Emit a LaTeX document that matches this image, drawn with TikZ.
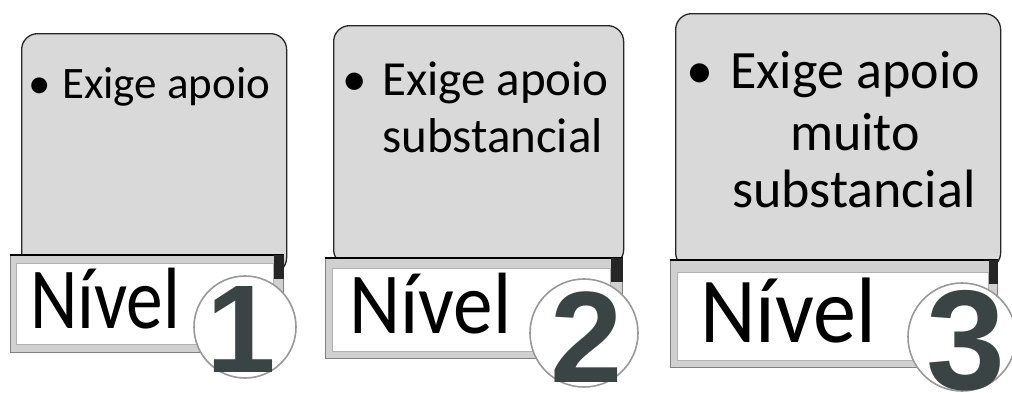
\documentclass[tikz,border=0pt]{standalone}
\usepackage{fontspec}
\setmainfont{Carlito}
\newfontfamily\digitfont{Liberation Sans}
\usepackage{graphicx}
\definecolor{boxgray}{HTML}{D9D9D9}
\definecolor{digitcol}{HTML}{3B4444}
\definecolor{bevel}{HTML}{D0D0D0}
\begin{document}
\begin{tikzpicture}[x=1pt,y=-1pt,
  panel/.style={draw=black!85, line width=1.3pt, fill=boxgray, rounded corners=16pt, anchor=north west, inner sep=0pt},
  barout/.style={draw=black!50, line width=0.8pt, fill=bevel, anchor=north west, inner sep=0pt},
  barin/.style={draw=black!30, line width=0.6pt, fill=white, anchor=north west, inner sep=0pt},
  badge/.style={circle, draw=black!40, line width=1.6pt, fill=white, inner sep=0pt},
  digit/.style={text=digitcol, anchor=base, inner sep=0pt},
  bodytext/.style={anchor=base west, inner sep=0pt},
  bul/.style={anchor=base, inner sep=0pt},
  niv/.style={anchor=base west, inner sep=0pt}]
\useasboundingbox (0,0) rectangle (1012,392);
\fill[white] (0,0) rectangle (1012,392);

% ---------- Panel 1 ----------
\node[panel, minimum width=265pt, minimum height=240pt] (box1) at (21,33) {};
\node[barout, minimum width=273pt, minimum height=97pt] (bar1) at (10,255) {};
\node[barin, minimum width=257pt, minimum height=81pt] (in1) at (16,263) {};
\draw[black, line width=1.2pt] (bar1.north west) -- (bar1.north east);
\fill[black!85] (in1.east |- bar1.north) rectangle ([yshift=-24pt]bar1.north east);
\node[bul, font=\fontsize{45}{54}\selectfont] (bul1) at (40,98) {\textbullet};
\node[bodytext, font=\fontsize{45}{54}\selectfont] (txt1) at (62,98) {Exige apoio};
\node[niv, font=\fontsize{87}{87}\selectfont] (niv1) at (30,328) {\resizebox{150pt}{\height}{Nível}};
\node[badge, minimum size=102pt] (cir1) at (245,327) {};
\node[digit, font=\digitfont\bfseries\fontsize{125}{125}\selectfont] (dig1) at (241,372) {1};

% ---------- Panel 2 ----------
\node[panel, minimum width=290pt, minimum height=240pt] (box2) at (333,25) {};
\node[barout, minimum width=297pt, minimum height=100pt] (bar2) at (325,258) {};
\node[barin, minimum width=278pt, minimum height=83pt] (in2) at (332,268) {};
\draw[black, line width=1.2pt] (bar2.north west) -- (bar2.north east);
\fill[black!85] (in2.east |- bar2.north) rectangle ([yshift=-24pt]bar2.north east);
\node[bul, font=\fontsize{49}{57}\selectfont] (bul2) at (355,95) {\textbullet};
\node[bodytext, font=\fontsize{49}{57}\selectfont] (txt2a) at (382,95) {Exige apoio};
\node[bodytext, font=\fontsize{49}{57}\selectfont] (txt2b) at (382,152) {substancial};
\node[niv, font=\fontsize{87}{87}\selectfont] (niv2) at (349,333) {\resizebox{162pt}{\height}{Nível}};
\node[badge, minimum size=108pt] (cir2) at (584,333) {};
\node[digit, font=\digitfont\bfseries\fontsize{130}{130}\selectfont] (dig2) at (587,382) {2};

% ---------- Panel 3 ----------
\node[panel, minimum width=325pt, minimum height=255pt] (box3) at (675,13) {};
\node[barout, minimum width=327pt, minimum height=107pt] (bar3) at (670,260) {};
\node[barin, minimum width=311pt, minimum height=88pt] (in3) at (677,272) {};
\draw[black, line width=1.2pt] (bar3.north west) -- (bar3.north east);
\fill[black!85] (in3.east |- bar3.north) rectangle ([yshift=-24pt]bar3.north east);
\node[bul, font=\fontsize{54}{60}\selectfont] (bul3) at (700,88) {\textbullet};
\node[bodytext, font=\fontsize{54}{60}\selectfont] (txt3a) at (730,88) {Exige apoio};
\node[bul, font=\fontsize{54}{60}\selectfont] (txt3b) at (855,150) {muito};
\node[bodytext, font=\fontsize{54}{60}\selectfont] (txt3c) at (732,207) {substancial};
\node[niv, font=\fontsize{93}{93}\selectfont] (niv3) at (700,342) {\resizebox{176pt}{\height}{Nível}};
\node[badge, minimum size=108pt] (cir3) at (962,337) {};
\node[digit, font=\digitfont\bfseries\fontsize{142}{142}\selectfont] (dig3) at (966,389) {3};
\end{tikzpicture}
\end{document}
